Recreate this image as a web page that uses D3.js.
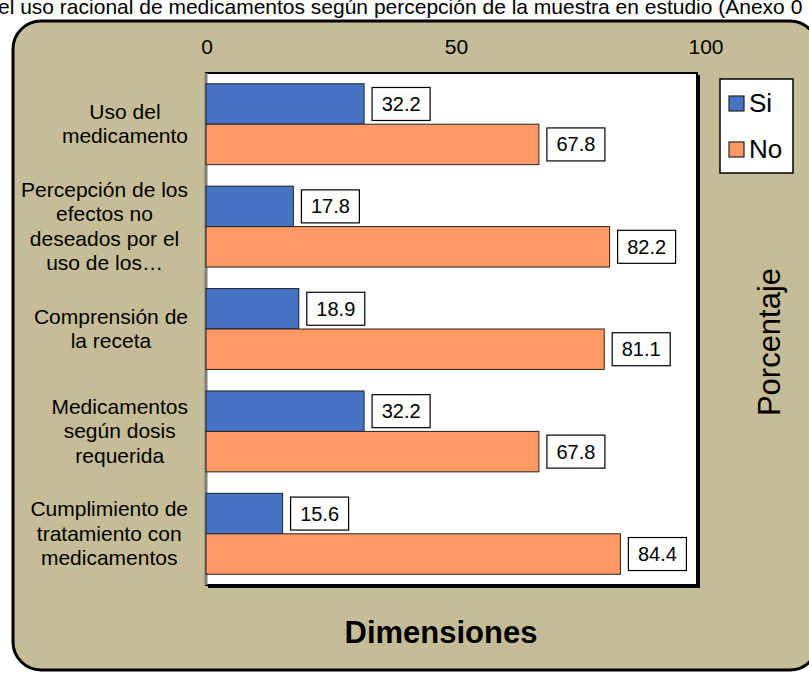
<!DOCTYPE html>
<html><head><meta charset="utf-8">
<script src="https://cdn.jsdelivr.net/npm/d3@7/dist/d3.min.js"></script>
<style>body{margin:0;background:#fff;}svg{display:block;font-family:Arial,"Liberation Sans",sans-serif;}</style>
</head><body><svg id="c" width="809" height="673"></svg>
<script>
const categories = [
  ["Uso del","medicamento"],
  ["Percepción de los","efectos no","deseados por el","uso de los…"],
  ["Comprensión de","la receta"],
  ["Medicamentos","según dosis","requerida"],
  ["Cumplimiento de","tratamiento con","medicamentos"]
];
const seriesNames = ["Si","No"];
const siValues = [32.2, 17.8, 18.9, 32.2, 15.6];
const noValues = [67.8, 82.2, 81.1, 67.8, 84.4];
const xTicks = [0, 50, 100];
const colors = {Si:"#4673C3", No:"#FF9965"};
const titleText = "el uso racional de medicamentos según percepción de la muestra en estudio (Anexo 0";

const svg = d3.select("#c");
// title (as in the reference, partly clipped at the top edge)
svg.append("text").attr("x",-2).attr("y",14).attr("font-size",21).attr("fill","#000").text(titleText);

// background panel
svg.append("rect").attr("x",13).attr("y",21).attr("width",805).attr("height",649).attr("rx",28)
  .attr("fill","#C4BD97").attr("stroke","#000").attr("stroke-width",3);

const L=206, R=697, T=73, B=585;
const x = d3.scaleLinear().domain([0,100]).range([L,R]);
// tick labels of the top value axis sit slightly wider than the plot
const xLab = d3.scaleLinear().domain([0,100]).range([207,706]);
const idx = categories.map((d,i)=>i);
const y = d3.scaleBand().domain(idx).range([T,B]).paddingInner(0.21).paddingOuter(0.105);
const ys = d3.scaleBand().domain(seriesNames).range([0,y.bandwidth()]);

// plot area shadow + area
svg.append("rect").attr("x",L+2).attr("y",T+2).attr("width",R-L+1).attr("height",B-T+1).attr("fill","#000");
svg.append("rect").attr("x",L).attr("y",T).attr("width",R-L).attr("height",B-T).attr("fill","#fff").attr("stroke","#000").attr("stroke-width",2);
svg.append("line").attr("x1",L).attr("x2",L).attr("y1",T).attr("y2",B).attr("stroke","#808080").attr("stroke-width",3);

// top axis labels
svg.append("g").selectAll("text").data(xTicks).join("text")
  .attr("x",d=>xLab(d)).attr("y",54).attr("text-anchor","middle").attr("font-size",21).text(d=>d);

const rows = [];
idx.forEach(i=>{ rows.push({i,s:"Si",v:siValues[i]}); rows.push({i,s:"No",v:noValues[i]}); });

const g = svg.append("g");
g.selectAll("rect.bar").data(rows).join("rect").attr("class","bar")
  .attr("x",x(0)).attr("y",d=>y(d.i)+ys(d.s)).attr("width",d=>x(d.v)-x(0)).attr("height",ys.bandwidth())
  .attr("fill",d=>colors[d.s]).attr("stroke","#222").attr("stroke-width",1);

// value label boxes
const bw=58, bh=33;
const lab = g.selectAll("g.lab").data(rows).join("g").attr("class","lab")
  .attr("transform",d=>`translate(${x(d.v)+8},${y(d.i)+ys(d.s)+ys.bandwidth()/2})`);
lab.append("rect").attr("x",0).attr("y",-bh/2).attr("width",bw).attr("height",bh).attr("fill","#fff").attr("stroke","#000").attr("stroke-width",1.2);
lab.append("text").attr("x",bw/2).attr("y",7).attr("text-anchor","middle").attr("font-size",20).text(d=>d.v.toFixed(1));

// category labels
const lh=24.5, rightEdge=188;
idx.forEach(i=>{
  const lines = categories[i];
  const cg = svg.append("g");
  const cy = y(i)+y.bandwidth()/2;
  const ts = cg.selectAll("text").data(lines).join("text").attr("font-size",21).attr("text-anchor","middle")
    .attr("y",(d,j)=>cy + (j-(lines.length-1)/2)*lh + 7).text(d=>d);
  let mw=0; ts.each(function(){mw=Math.max(mw,this.getComputedTextLength());});
  ts.attr("x", rightEdge - mw/2);
});

// legend
svg.append("rect").attr("x",720).attr("y",79).attr("width",73).attr("height",94).attr("fill","#fff").attr("stroke","#000").attr("stroke-width",1.5);
const lg = svg.append("g").selectAll("g").data(seriesNames).join("g").attr("transform",(d,i)=>`translate(729,${96+i*46})`);
lg.append("rect").attr("width",15).attr("height",15).attr("fill",d=>colors[d]).attr("stroke","#222").attr("stroke-width",1.2);
lg.append("text").attr("x",20).attr("y",16).attr("font-size",26).text(d=>d);

// axis titles
svg.append("text").attr("transform","translate(780,342) rotate(-90)").attr("text-anchor","middle").attr("font-size",31).text("Porcentaje");
svg.append("text").attr("x",441).attr("y",643).attr("text-anchor","middle").attr("font-size",31).attr("font-weight","bold").text("Dimensiones");
</script></body></html>
